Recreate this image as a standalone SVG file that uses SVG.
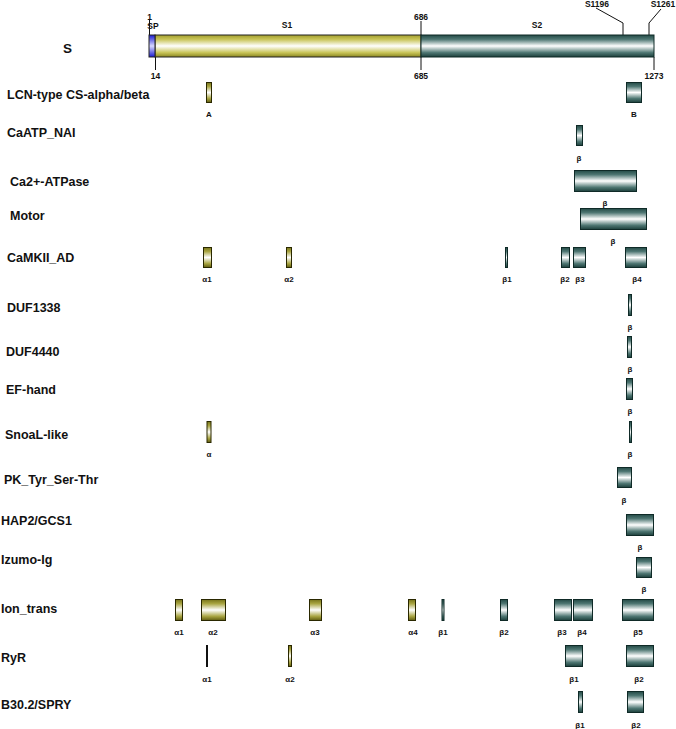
<svg xmlns="http://www.w3.org/2000/svg" width="676" height="729" viewBox="0 0 676 729">
<defs>
<linearGradient id="gy" x1="0" y1="0" x2="0" y2="1">
<stop offset="0" stop-color="#77741a"/>
<stop offset="0.2" stop-color="#a9a542"/>
<stop offset="0.5" stop-color="#ffffff"/>
<stop offset="0.8" stop-color="#a9a542"/>
<stop offset="1" stop-color="#5f5c10"/>
</linearGradient>
<linearGradient id="gt" x1="0" y1="0" x2="0" y2="1">
<stop offset="0" stop-color="#234a46"/>
<stop offset="0.2" stop-color="#4f7773"/>
<stop offset="0.5" stop-color="#ffffff"/>
<stop offset="0.8" stop-color="#4f7773"/>
<stop offset="1" stop-color="#1b3e3a"/>
</linearGradient>
<linearGradient id="gyb" x1="0" y1="0" x2="0" y2="1">
<stop offset="0" stop-color="#a29e2c"/>
<stop offset="0.2" stop-color="#c8c458"/>
<stop offset="0.5" stop-color="#ffffff"/>
<stop offset="0.8" stop-color="#c8c458"/>
<stop offset="1" stop-color="#8a8620"/>
</linearGradient>
<linearGradient id="gb" x1="0" y1="0" x2="0" y2="1">
<stop offset="0" stop-color="#1a1ad0"/>
<stop offset="0.5" stop-color="#d8d8ff"/>
<stop offset="1" stop-color="#1a1ad0"/>
</linearGradient>
<style>
.y{fill:url(#gy);stroke:#2a2800;stroke-width:1}
.t{fill:url(#gt);stroke:#0f2a27;stroke-width:1}
.k{stroke:#111;stroke-width:1;fill:none}
.lab{font-family:"Liberation Sans",Arial,sans-serif;font-weight:bold;font-size:12.5px;fill:#111}
.sm{font-family:"Liberation Sans",Arial,sans-serif;font-weight:bold;font-size:8px;fill:#111;text-anchor:middle}
.num{font-family:"Liberation Sans",Arial,sans-serif;font-weight:bold;font-size:8.5px;fill:#111;text-anchor:middle}
</style>
</defs>
<rect width="676" height="729" fill="#ffffff"/>

<g id="connectors">
<line class="k" x1="149.5" y1="19" x2="149.5" y2="35"/>
<line class="k" x1="155.5" y1="57" x2="155.5" y2="70"/>
<line class="k" x1="421" y1="21" x2="421" y2="35"/>
<line class="k" x1="421" y1="57" x2="421" y2="70"/>
<line class="k" x1="654" y1="57" x2="654" y2="70"/>
<polyline class="k" points="596,8 623,23 623,35"/>
<polyline class="k" points="661,9 649,23 649,35"/>
</g>

<g id="S">
<text class="lab" x="63" y="53" style="font-size:13.5px">S</text>
<rect x="155" y="35" width="266" height="22" fill="url(#gyb)" stroke="#222" stroke-width="1"/>
<rect x="421" y="35" width="233" height="22" class="t"/>
<rect x="149" y="35" width="6" height="22" fill="url(#gb)" stroke="#222" stroke-width="1"/>
<text class="num" x="149.5" y="20">1</text>
<text class="num" x="153" y="29">SP</text>
<text class="num" x="155.5" y="79">14</text>
<text class="num" x="287" y="28">S1</text>
<text class="num" x="421" y="20">686</text>
<text class="num" x="421" y="79">685</text>
<text class="num" x="537" y="28">S2</text>
<text class="num" x="597" y="7">S1196</text>
<text class="num" x="663" y="7">S1261</text>
<text class="num" x="654" y="79">1273</text>
</g>

<g id="LCN">
<text class="lab" x="7" y="99">LCN-type CS-alpha/beta</text>
<rect class="y" x="206.5" y="82.5" width="5" height="20"/>
<text class="sm" x="209" y="117">A</text>
<rect class="t" x="626.5" y="82.5" width="15" height="20"/>
<text class="sm" x="634" y="117">B</text>
</g>

<g id="CaATP_NAI">
<text class="lab" x="7" y="137">CaATP_NAI</text>
<rect class="t" x="576.5" y="125.5" width="6" height="20"/>
<text class="sm" x="579" y="161">β</text>
</g>

<g id="Ca2ATPase">
<text class="lab" x="10" y="186">Ca2+-ATPase</text>
<rect class="t" x="574.5" y="170.5" width="62" height="21"/>
<text class="sm" x="605" y="206">β</text>
</g>

<g id="Motor">
<text class="lab" x="10" y="220">Motor</text>
<rect class="t" x="580.5" y="208.5" width="66" height="21"/>
<text class="sm" x="613" y="244">β</text>
</g>

<g id="CaMKII_AD">
<text class="lab" x="7" y="262">CaMKII_AD</text>
<rect class="y" x="203.5" y="247.5" width="8" height="20"/>
<rect class="y" x="286.5" y="247.5" width="5" height="20"/>
<rect class="t" x="505.5" y="247.5" width="2" height="20"/>
<rect class="t" x="561.5" y="247.5" width="8" height="20"/>
<rect class="t" x="573.5" y="247.5" width="12" height="20"/>
<rect class="t" x="625.5" y="247.5" width="21" height="20"/>
<text class="sm" x="207" y="282">α1</text>
<text class="sm" x="289" y="282">α2</text>
<text class="sm" x="507" y="282">β1</text>
<text class="sm" x="565" y="282">β2</text>
<text class="sm" x="580" y="282">β3</text>
<text class="sm" x="637" y="282">β4</text>
</g>

<g id="DUF1338">
<text class="lab" x="7" y="312">DUF1338</text>
<rect class="t" x="628.5" y="294.5" width="3" height="21"/>
<text class="sm" x="630" y="330">β</text>
</g>

<g id="DUF4440">
<text class="lab" x="6" y="356">DUF4440</text>
<rect class="t" x="627.5" y="336.5" width="4" height="21"/>
<text class="sm" x="630" y="372">β</text>
</g>

<g id="EF-hand">
<text class="lab" x="6" y="394">EF-hand</text>
<rect class="t" x="626.5" y="378.5" width="6" height="21"/>
<text class="sm" x="630" y="414">β</text>
</g>

<g id="SnoaL-like">
<text class="lab" x="5" y="439">SnoaL-like</text>
<rect class="y" x="207" y="421.5" width="4" height="21"/>
<text class="sm" x="209" y="457">α</text>
<rect class="t" x="629.5" y="421.5" width="2" height="21"/>
<text class="sm" x="630" y="457">β</text>
</g>

<g id="PK_Tyr_Ser-Thr">
<text class="lab" x="4" y="484">PK_Tyr_Ser-Thr</text>
<rect class="t" x="617.5" y="467.5" width="14" height="20"/>
<text class="sm" x="624" y="503">β</text>
</g>

<g id="HAP2_GCS1">
<text class="lab" x="1" y="525">HAP2/GCS1</text>
<rect class="t" x="626.5" y="514.5" width="27" height="21"/>
<text class="sm" x="640" y="550">β</text>
</g>

<g id="Izumo-Ig">
<text class="lab" x="1" y="564">Izumo-Ig</text>
<rect class="t" x="636.5" y="557.5" width="15" height="20"/>
<text class="sm" x="644" y="592">β</text>
</g>

<g id="Ion_trans">
<text class="lab" x="1" y="613">Ion_trans</text>
<rect class="y" x="175.5" y="599.5" width="7" height="21"/>
<rect class="y" x="201.5" y="599.5" width="24" height="21"/>
<rect class="y" x="309.5" y="599.5" width="12" height="21"/>
<rect class="y" x="408.5" y="599.5" width="7" height="21"/>
<rect class="t" x="442" y="599.5" width="2" height="21"/>
<rect class="t" x="500.5" y="599.5" width="7" height="21"/>
<rect class="t" x="554.5" y="599.5" width="17" height="21"/>
<rect class="t" x="573.5" y="599.5" width="19" height="21"/>
<rect class="t" x="622.5" y="599.5" width="31" height="21"/>
<text class="sm" x="179" y="635">α1</text>
<text class="sm" x="213" y="635">α2</text>
<text class="sm" x="315" y="635">α3</text>
<text class="sm" x="413" y="635">α4</text>
<text class="sm" x="443" y="635">β1</text>
<text class="sm" x="504" y="635">β2</text>
<text class="sm" x="562" y="635">β3</text>
<text class="sm" x="582" y="635">β4</text>
<text class="sm" x="638" y="635">β5</text>
</g>

<g id="RyR">
<text class="lab" x="1" y="662">RyR</text>
<rect x="206" y="645" width="2" height="22" fill="#111"/>
<rect class="y" x="288.5" y="645.5" width="3" height="21"/>
<rect class="t" x="565.5" y="645.5" width="17" height="21"/>
<rect class="t" x="626.5" y="645.5" width="27" height="21"/>
<text class="sm" x="207" y="682">α1</text>
<text class="sm" x="290" y="682">α2</text>
<text class="sm" x="574" y="682">β1</text>
<text class="sm" x="639" y="682">β2</text>
</g>

<g id="B30.2_SPRY">
<text class="lab" x="1" y="709">B30.2/SPRY</text>
<rect class="t" x="578.5" y="691.5" width="4" height="21"/>
<rect class="t" x="627.5" y="691.5" width="16" height="21"/>
<text class="sm" x="580" y="728">β1</text>
<text class="sm" x="636" y="728">β2</text>
</g>
</svg>
